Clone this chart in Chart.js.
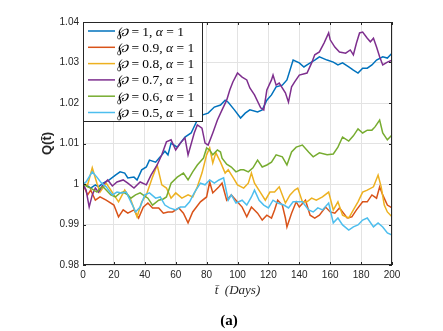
<!DOCTYPE html>
<html>
<head>
<meta charset="utf-8">
<script src="https://cdn.jsdelivr.net/npm/chart.js@4"></script>
<style>
  html, body { margin: 0; padding: 0; background: #fff; }
  #wrap { position: relative; width: 443px; height: 331px; }
  #caption { position: absolute; left: 0; width: 458px; top: 312px; text-align: center;
    font: bold 15px "Liberation Serif", serif; color: #000; }
</style>
</head>
<body>
<div id="wrap">
  <canvas id="qChart" width="443" height="331"></canvas>
  <div id="caption">(a)</div>
</div>
<script>
// Legendas das séries (φ = ℘, α)
const seriesLabels = ['℘ = 1, α = 1', '℘ = 0.9, α = 1', '℘ = 0.8, α = 1', '℘ = 0.7, α = 1', '℘ = 0.6, α = 1', '℘ = 0.5, α = 1'];
const seriesColors = ['#0072BD', '#D95319', '#EDB120', '#7E2F8E', '#77AC30', '#4DBEEE'];

const xTicks = [0, 20, 40, 60, 80, 100, 120, 140, 160, 180, 200];
const yTicks = [0.98, 0.99, 1, 1.01, 1.02, 1.03, 1.04];

// ℘ = 1
const daysP10 = [0,3,5,8,10,13,17,21,24,27,29,33,35,38,41,43,47,50,53,55,57,61,66,70,74,77,81,85,89,92,94,98,102,105,108,113,116,119,122,125,129,132,136,140,143,145,150,153,158,162,165,168,172,175,178,181,184,187,190,194,197,200];
const qP10 = [1.0000,0.9995,0.9990,0.9998,0.9993,1.0002,1.0010,1.0022,1.0030,1.0027,1.0015,1.0017,1.0010,1.0035,1.0042,1.0059,1.0054,1.0067,1.0081,1.0072,1.0101,1.0091,1.0116,1.0126,1.0158,1.0170,1.0175,1.0190,1.0195,1.0207,1.0202,1.0183,1.0163,1.0175,1.0183,1.0178,1.0183,1.0207,1.0220,1.0240,1.0244,1.0257,1.0306,1.0299,1.0289,1.0294,1.0306,1.0314,1.0306,1.0301,1.0294,1.0299,1.0289,1.0281,1.0274,1.0286,1.0286,1.0294,1.0306,1.0314,1.0311,1.0323];

// ℘ = 0.9
const daysP09 = [0,3,5,8,11,15,20,23,26,29,33,36,39,42,45,49,52,55,58,62,65,68,71,76,80,82,84,88,90,93,96,99,103,106,109,113,116,119,122,124,126,129,131,132,135,138,140,144,147,150,153,157,160,163,166,171,174,177,181,184,187,190,192,194,197,200];
const qP09 = [1.0000,0.9973,0.9985,0.9960,0.9968,0.9960,0.9948,0.9919,0.9936,0.9928,0.9936,0.9916,0.9943,0.9953,0.9941,0.9941,0.9928,0.9931,0.9931,0.9941,0.9928,0.9904,0.9931,0.9956,0.9968,1.0005,0.9978,0.9993,1.0002,0.9960,0.9973,0.9960,0.9943,0.9919,0.9943,0.9928,0.9911,0.9923,0.9916,0.9936,0.9960,0.9948,0.9916,0.9894,0.9928,0.9956,0.9943,0.9960,0.9923,0.9916,0.9923,0.9943,0.9931,0.9928,0.9941,0.9916,0.9919,0.9936,0.9956,0.9956,0.9973,0.9965,0.9993,0.9973,0.9948,0.9941];

// ℘ = 0.8
const daysP08 = [0,3,6,9,11,15,18,20,23,27,31,35,38,41,45,48,51,54,57,60,64,68,71,74,77,80,82,84,86,89,92,94,97,100,104,107,109,111,115,118,121,124,127,131,134,137,139,142,145,148,151,155,159,162,165,168,172,175,178,181,184,188,191,193,195,197,200];
const qP08 = [1.0000,0.9998,1.0040,1.0002,0.9980,1.0002,0.9985,0.9973,0.9956,0.9985,0.9960,0.9919,0.9956,0.9973,1.0017,1.0047,0.9998,0.9990,0.9965,0.9978,0.9965,0.9973,0.9968,0.9993,1.0027,1.0072,1.0089,1.0052,1.0077,1.0054,1.0027,1.0035,1.0017,0.9998,0.9990,1.0002,1.0027,1.0002,0.9978,0.9960,0.9980,0.9980,0.9993,0.9953,0.9973,0.9985,0.9990,0.9956,0.9956,0.9965,0.9960,0.9968,0.9980,0.9936,0.9956,0.9923,0.9916,0.9936,0.9956,0.9980,0.9985,0.9993,1.0022,0.9993,0.9948,0.9931,0.9919];

// ℘ = 0.7
const daysP07 = [0,2,4,6,8,10,13,16,19,22,26,29,33,37,41,44,48,51,54,57,60,63,66,68,72,74,77,79,81,84,87,90,93,95,97,100,103,106,108,111,115,117,119,122,123,125,127,131,133,135,137,140,145,148,150,153,156,159,160,163,166,170,173,175,177,179,181,184,186,188,190,192,194,197,200];
const qP07 = [1.0000,0.9985,0.9943,0.9973,0.9990,0.9980,0.9998,1.0010,0.9995,1.0005,1.0010,1.0002,0.9990,1.0005,0.9998,1.0022,1.0047,1.0072,1.0104,1.0109,1.0084,1.0101,1.0114,1.0072,1.0126,1.0146,1.0138,1.0101,1.0096,1.0126,1.0158,1.0183,1.0207,1.0232,1.0252,1.0274,1.0264,1.0257,1.0237,1.0220,1.0188,1.0183,1.0232,1.0257,1.0269,1.0244,1.0249,1.0225,1.0202,1.0240,1.0252,1.0269,1.0274,1.0299,1.0319,1.0326,1.0348,1.0373,1.0356,1.0338,1.0326,1.0323,1.0331,1.0319,1.0348,1.0373,1.0375,1.0360,1.0351,1.0360,1.0338,1.0314,1.0294,1.0301,1.0306];

// ℘ = 0.6
const daysP06 = [0,3,5,9,11,13,15,18,21,24,26,29,31,34,37,40,42,45,49,52,54,57,61,65,68,71,74,78,80,82,84,87,89,90,93,96,99,102,104,107,110,113,116,119,122,125,129,132,135,138,142,146,149,153,158,162,165,168,172,175,178,181,184,187,189,192,194,197,200];
const qP06 = [1.0000,0.9993,0.9990,0.9980,0.9990,0.9993,0.9985,0.9973,0.9968,0.9978,0.9980,0.9973,0.9965,0.9973,0.9978,0.9970,0.9965,0.9948,0.9960,0.9963,0.9968,1.0002,1.0017,1.0027,1.0010,1.0030,1.0047,1.0064,1.0089,1.0084,1.0072,1.0084,1.0079,1.0064,1.0049,1.0042,1.0030,1.0035,1.0035,1.0030,1.0040,1.0059,1.0042,1.0047,1.0054,1.0072,1.0067,1.0047,1.0079,1.0091,1.0096,1.0079,1.0067,1.0077,1.0072,1.0074,1.0091,1.0116,1.0106,1.0119,1.0136,1.0126,1.0133,1.0133,1.0141,1.0158,1.0126,1.0109,1.0121];

// ℘ = 0.5
const daysP05 = [0,2,6,9,12,15,19,22,25,28,32,34,37,40,43,47,50,53,56,60,63,66,69,72,76,79,82,85,88,91,94,96,99,103,106,109,111,114,117,120,123,126,130,133,136,139,142,146,149,152,155,159,162,165,168,172,175,178,181,184,188,191,194,197,200];
const qP05 = [1.0000,1.0005,1.0030,1.0017,1.0002,0.9993,0.9973,0.9980,0.9978,0.9980,0.9948,0.9931,0.9943,0.9973,0.9978,0.9965,0.9968,0.9948,0.9941,0.9936,0.9943,0.9943,0.9956,0.9978,1.0002,0.9998,1.0010,1.0002,1.0010,1.0015,0.9960,0.9973,0.9953,0.9960,0.9948,0.9968,0.9985,0.9960,0.9948,0.9941,0.9960,0.9953,0.9948,0.9941,0.9956,0.9956,0.9956,0.9936,0.9931,0.9941,0.9936,0.9953,0.9904,0.9916,0.9899,0.9886,0.9894,0.9899,0.9911,0.9916,0.9894,0.9904,0.9894,0.9879,0.9874];

const seriesDays = [daysP10, daysP09, daysP08, daysP07, daysP06, daysP05];
const seriesQ = [qP10, qP09, qP08, qP07, qP06, qP05];

const datasets = seriesQ.map((vals, i) => ({
    label: seriesLabels[i],
    data: vals.map((v, k) => ({ x: seriesDays[i][k], y: v })),
    borderColor: seriesColors[i],
    backgroundColor: seriesColors[i],
    borderWidth: 1.5,
    pointRadius: 0,
    tension: 0,
    order: seriesQ.length - i
}));

// Moldura com marcas internas (estilo MATLAB)
const boxPlugin = {
    id: 'box',
    afterDatasetsDraw(chart) {
        const { ctx, chartArea: a, scales: { x, y } } = chart;
        ctx.save();
        ctx.strokeStyle = '#262626';
        ctx.lineWidth = 1;
        ctx.strokeRect(a.left + 0.5, a.top + 0.5, a.right - a.left - 1, a.bottom - a.top - 1);
        ctx.beginPath();
        xTicks.forEach(t => {
            const px = Math.round(x.getPixelForValue(t)) + 0.5;
            ctx.moveTo(px, a.bottom); ctx.lineTo(px, a.bottom - 3);
            ctx.moveTo(px, a.top); ctx.lineTo(px, a.top + 3);
        });
        yTicks.forEach(t => {
            const py = Math.round(y.getPixelForValue(t)) + 0.5;
            ctx.moveTo(a.left, py); ctx.lineTo(a.left + 3, py);
            ctx.moveTo(a.right, py); ctx.lineTo(a.right - 3, py);
        });
        ctx.stroke();
        ctx.restore();
    }
};

// Escreve o rótulo com ℘ e α em itálico e o resto reto, como no LaTeX
function drawMathLabel(ctx, text, x, y) {
    const upright = '13.5px "Liberation Serif", serif';
    const italic = 'italic 13.5px "Liberation Serif", serif';
    let cx = x;
    text.split(/([℘α])/).forEach(part => {
        if (!part) return;
        ctx.font = (part === '℘' || part === 'α') ? italic : upright;
        ctx.fillText(part, cx, y);
        cx += ctx.measureText(part).width;
    });
}

// Legenda dentro do gráfico, canto superior esquerdo
const legendPlugin = {
    id: 'innerLegend',
    afterDraw(chart) {
        const { ctx, chartArea: a } = chart;
        const w = 119, h = 99;
        ctx.save();
        ctx.fillStyle = '#fff';
        ctx.fillRect(a.left, a.top, w, h);
        ctx.strokeStyle = '#262626';
        ctx.lineWidth = 1;
        ctx.strokeRect(a.left + 0.5, a.top + 0.5, w, h);
        ctx.textBaseline = 'middle';
        ctx.fillStyle = '#000';
        chart.data.datasets.forEach((ds, i) => {
            const yy = a.top + 9 + i * 16.3;
            ctx.strokeStyle = ds.borderColor;
            ctx.lineWidth = 1.5;
            ctx.beginPath();
            ctx.moveTo(a.left + 5, yy);
            ctx.lineTo(a.left + 32, yy);
            ctx.stroke();
            drawMathLabel(ctx, ds.label, a.left + 34, yy + 1);
        });
        ctx.restore();
    }
};

const ctx = document.getElementById('qChart').getContext('2d');
new Chart(ctx, {
    type: 'line',
    data: { datasets: datasets },
    options: {
        responsive: false,
        animation: false,
        layout: { padding: { left: 0, right: 51, top: 22, bottom: 0 } },
        plugins: { legend: { display: false }, tooltip: { enabled: false } },
        scales: {
            x: {
                type: 'linear',
                min: 0,
                max: 200,
                afterFit(scale) { scale.height = 66; },
                afterBuildTicks(scale) { scale.ticks = xTicks.map(v => ({ value: v })); },
                grid: { color: '#e3e3e3', drawTicks: false },
                border: { display: false },
                ticks: { padding: 4, color: '#262626', font: { family: '"Liberation Sans", Arial', size: 10 } },
                title: {
                    display: true,
                    text: 't̄  (Days)',
                    color: '#262626',
                    font: { family: '"Liberation Serif", serif', size: 13, style: 'italic' },
                    padding: { top: 0, bottom: 33 }
                }
            },
            y: {
                min: 0.98,
                max: 1.04,
                afterFit(scale) { scale.width = 83; },
                afterBuildTicks(scale) { scale.ticks = yTicks.map(v => ({ value: v })); },
                grid: { color: '#e3e3e3', drawTicks: false },
                border: { display: false },
                ticks: {
                    padding: 4,
                    color: '#262626',
                    font: { family: '"Liberation Sans", Arial', size: 10 },
                    callback: v => String(Number(v.toFixed(2)))
                },
                title: {
                    display: true,
                    text: 'Q(t̄)',
                    color: '#262626',
                    font: { family: '"Liberation Sans", Arial', size: 13, weight: 'bold' },
                    padding: { top: 40, bottom: 0 }
                }
            }
        }
    },
    plugins: [boxPlugin, legendPlugin]
});
</script>
</body>
</html>
